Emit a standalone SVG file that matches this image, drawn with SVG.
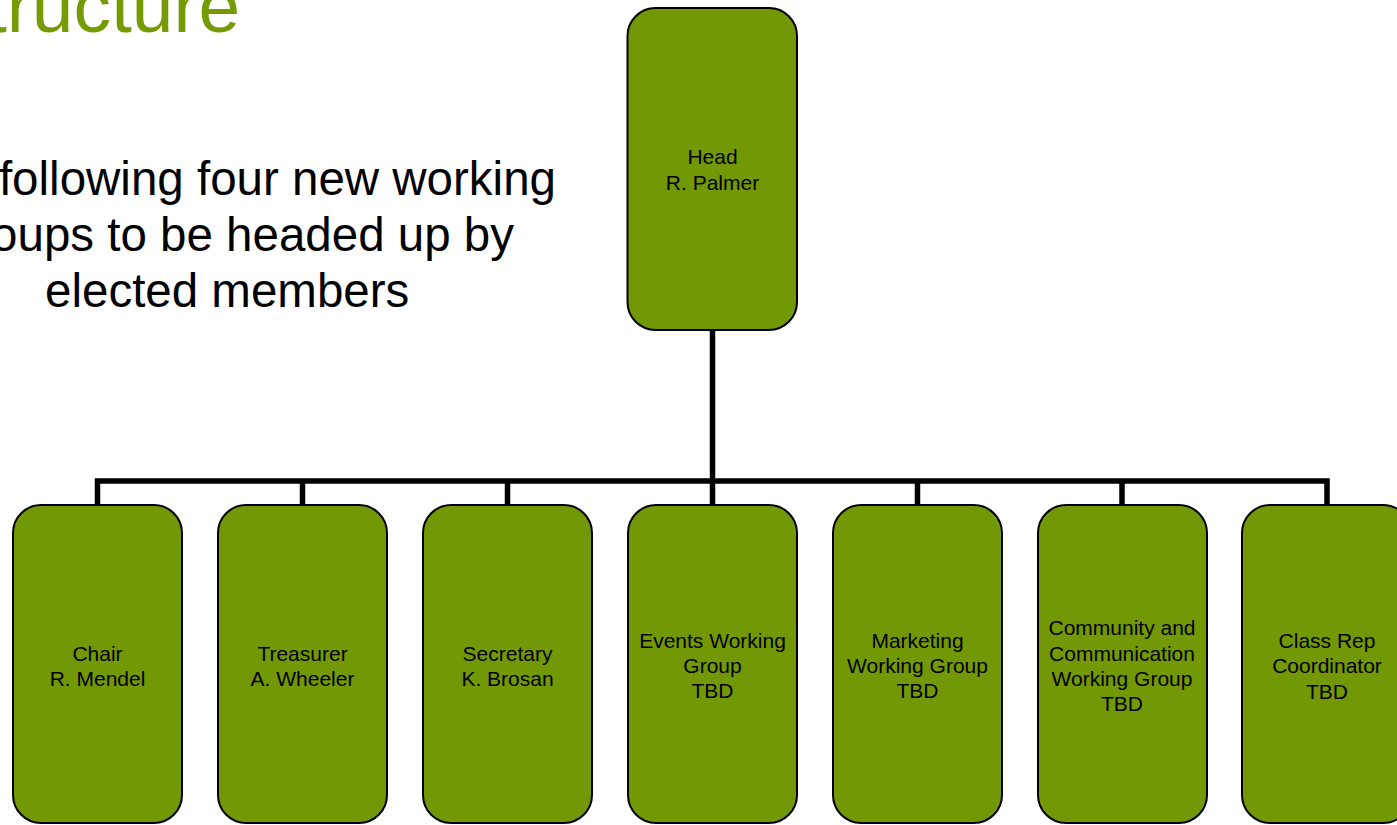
<svg xmlns="http://www.w3.org/2000/svg" width="1397" height="825" viewBox="0 0 1397 825">
  <style>
    .box { fill: #739805; stroke: #000; stroke-width: 2; }
    .lbl { font-family: "Liberation Sans", Arial, sans-serif; font-size: 21px; fill: #000; text-anchor: middle; }
    .conn { fill: none; stroke: #000; stroke-width: 5.5; stroke-linejoin: miter; stroke-linecap: butt; }
    .title { font-family: "Liberation Sans", Arial, sans-serif; font-size: 75px; fill: #749B04; }
    .body { font-family: "Liberation Sans", Arial, sans-serif; font-size: 47.5px; fill: #000; }
  </style>
  <rect width="1397" height="825" fill="#fff"/>
  <text class="title" x="-14" y="32">tructure</text>
  <g id="intro">
    <text class="body" x="556" y="195" text-anchor="end">following four new working</text>
    <text class="body" x="514" y="251" text-anchor="end">oups to be headed up by</text>
    <text class="body" x="45" y="307">elected members</text>
  </g>
  <g id="connectors">
    <path class="conn" d="M712.5,330 V505"/>
    <path class="conn" d="M97.5,505 V481 H1327 V505"/>
    <path class="conn" d="M302.5,481 V505"/>
    <path class="conn" d="M507.5,481 V505"/>
    <path class="conn" d="M917.5,481 V505"/>
    <path class="conn" d="M1122,481 V505"/>
  </g>
  <g id="head">
    <rect class="box" x="627.5" y="8" width="169.5" height="322" rx="28"/>
    <text class="lbl" x="712.5" y="164">Head</text>
    <text class="lbl" x="712.5" y="190">R. Palmer</text>
  </g>
  <g id="chair">
    <rect class="box" x="13" y="505" width="169" height="318" rx="28"/>
    <text class="lbl" x="97.5" y="661">Chair</text>
    <text class="lbl" x="97.5" y="686">R. Mendel</text>
  </g>
  <g id="treasurer">
    <rect class="box" x="218" y="505" width="169" height="318" rx="28"/>
    <text class="lbl" x="302.5" y="661">Treasurer</text>
    <text class="lbl" x="302.5" y="686">A. Wheeler</text>
  </g>
  <g id="secretary">
    <rect class="box" x="423" y="505" width="169" height="318" rx="28"/>
    <text class="lbl" x="507.5" y="661">Secretary</text>
    <text class="lbl" x="507.5" y="686">K. Brosan</text>
  </g>
  <g id="events">
    <rect class="box" x="628" y="505" width="169" height="318" rx="28"/>
    <text class="lbl" x="712.5" y="648">Events Working</text>
    <text class="lbl" x="712.5" y="673">Group</text>
    <text class="lbl" x="712.5" y="698">TBD</text>
  </g>
  <g id="marketing">
    <rect class="box" x="833" y="505" width="169" height="318" rx="28"/>
    <text class="lbl" x="917.5" y="648">Marketing</text>
    <text class="lbl" x="917.5" y="673">Working Group</text>
    <text class="lbl" x="917.5" y="698">TBD</text>
  </g>
  <g id="community">
    <rect class="box" x="1038" y="505" width="169" height="318" rx="28"/>
    <text class="lbl" x="1122" y="635">Community and</text>
    <text class="lbl" x="1122" y="660.5">Communication</text>
    <text class="lbl" x="1122" y="686">Working Group</text>
    <text class="lbl" x="1122" y="711">TBD</text>
  </g>
  <g id="classrep">
    <rect class="box" x="1242" y="505" width="169" height="318" rx="28"/>
    <text class="lbl" x="1327" y="648">Class Rep</text>
    <text class="lbl" x="1327" y="673">Coordinator</text>
    <text class="lbl" x="1327" y="699">TBD</text>
  </g>
</svg>
